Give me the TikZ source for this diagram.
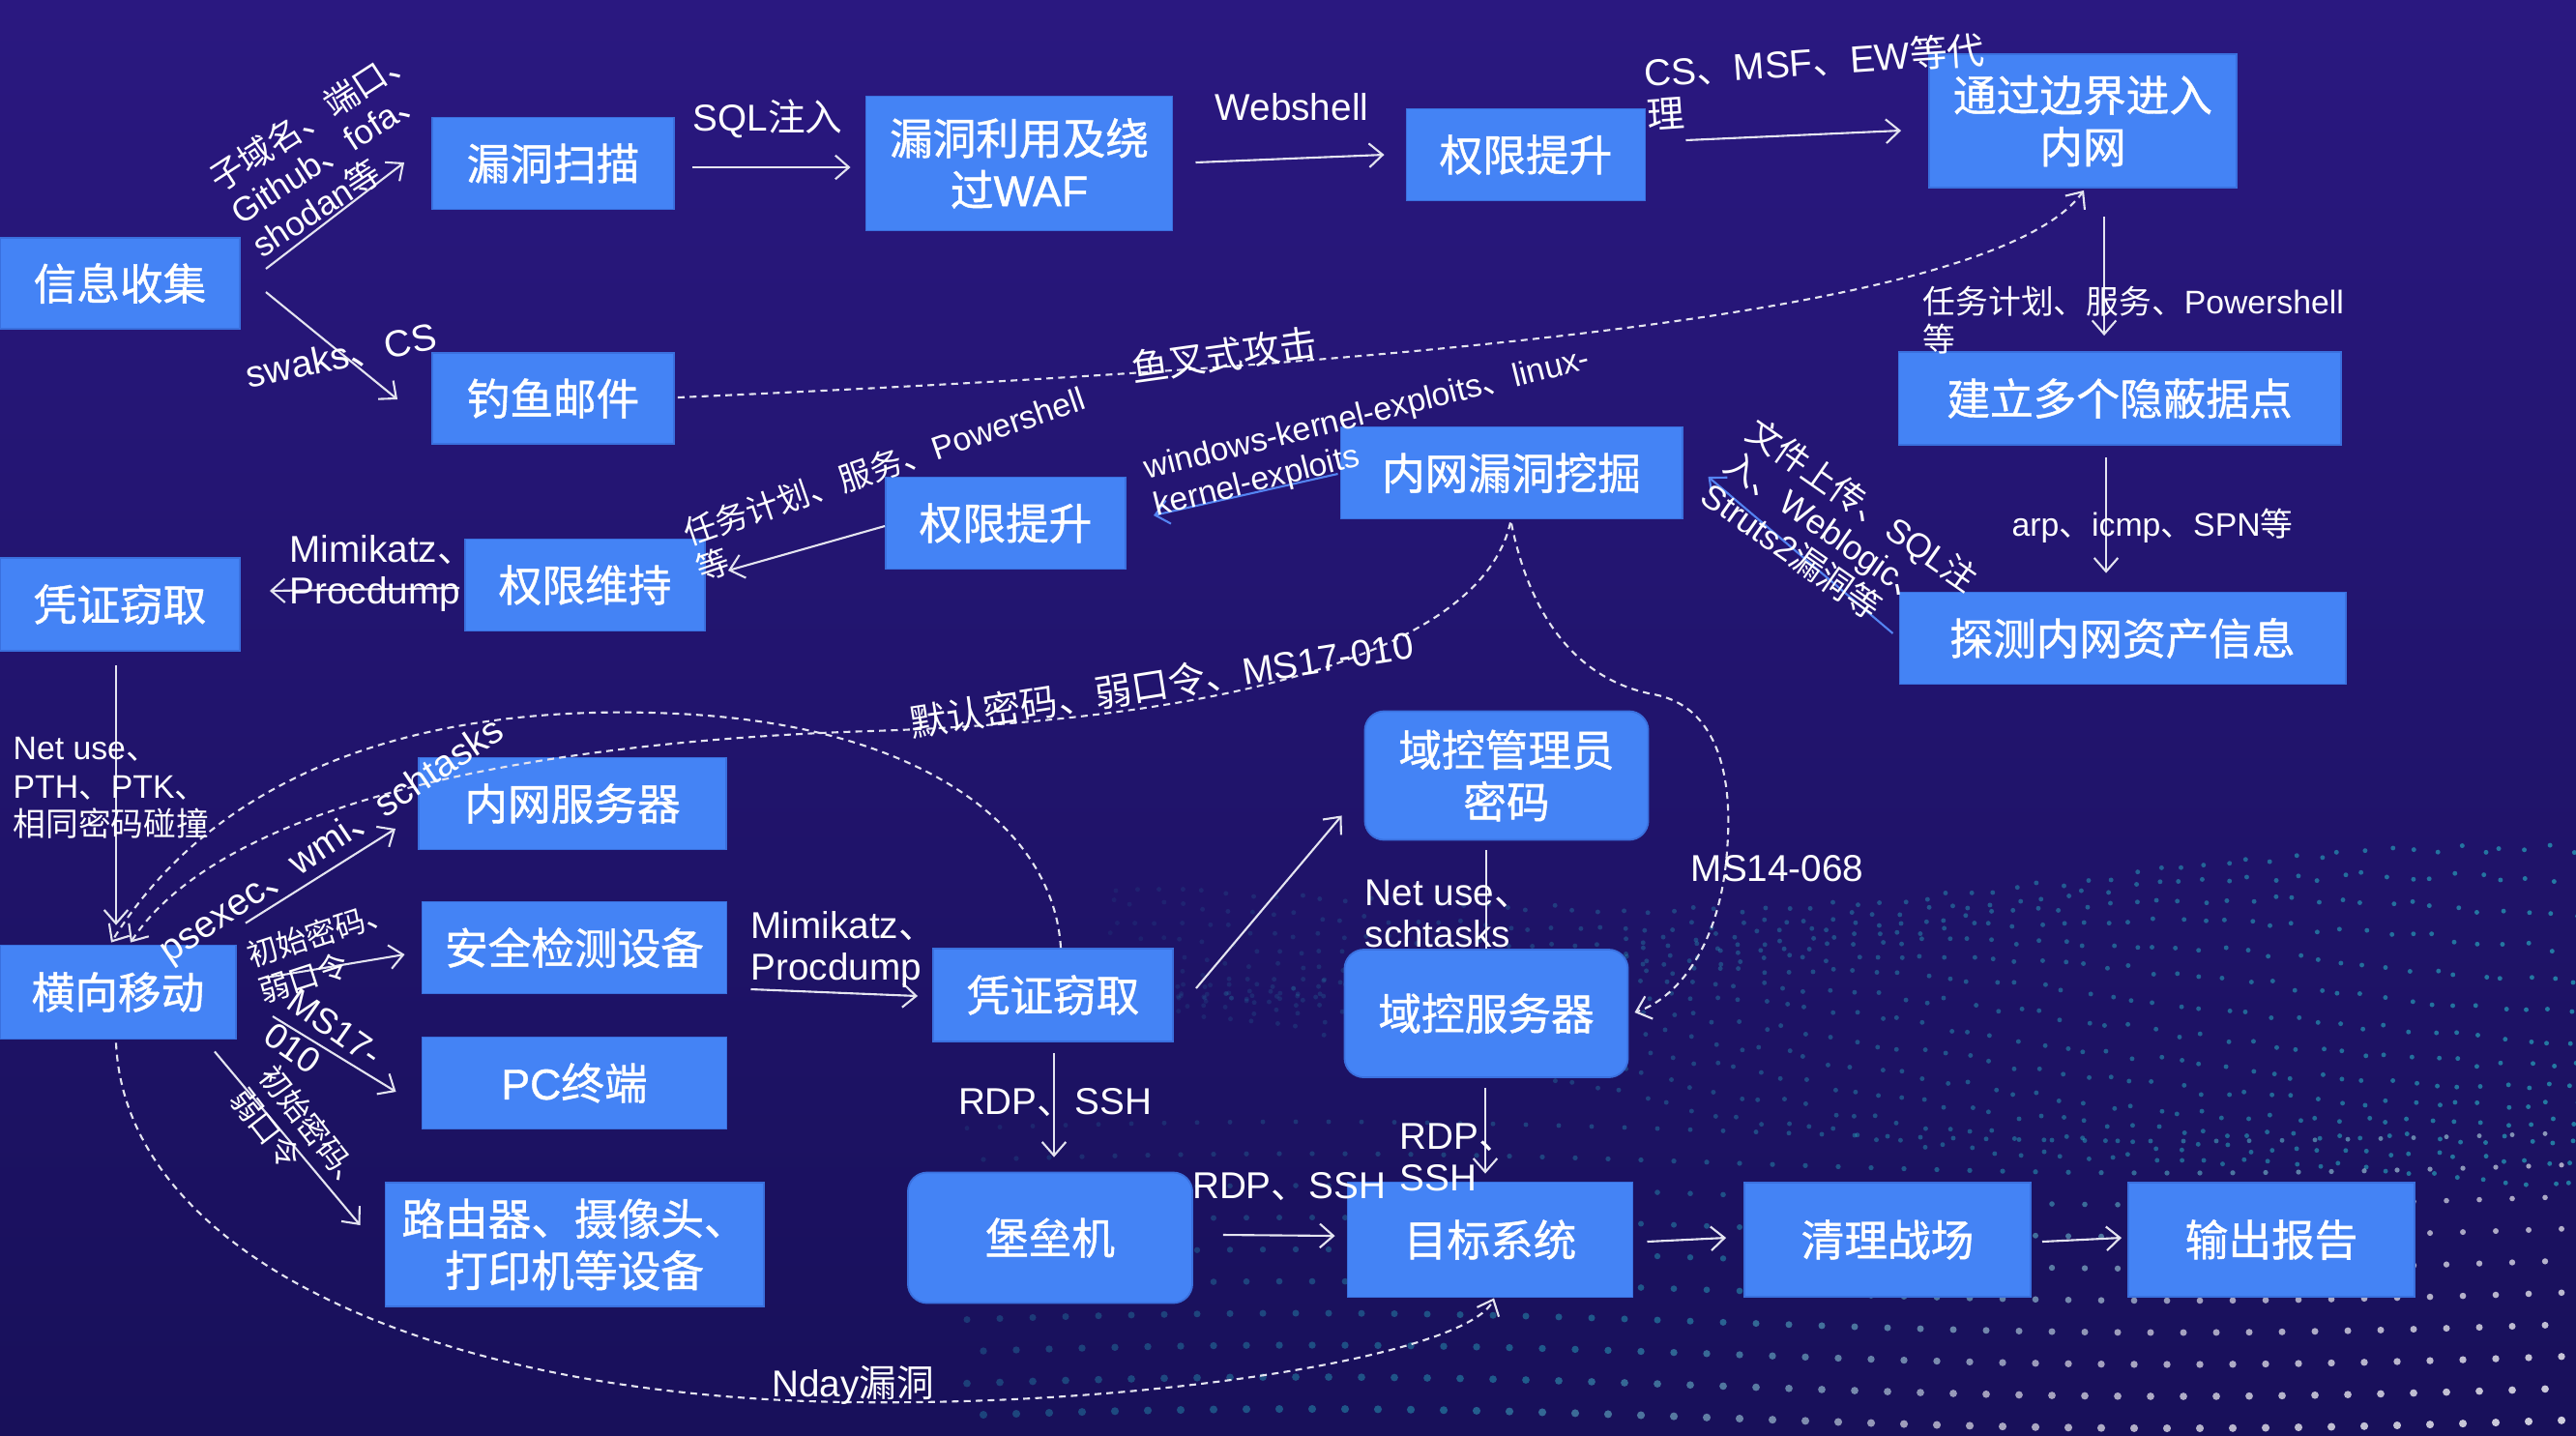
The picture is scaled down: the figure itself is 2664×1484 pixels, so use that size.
\documentclass[tikz,border=0pt]{standalone}
\usepackage{fontspec}
\setmainfont{Liberation Sans}
\newfontfamily\latR{Liberation Sans}
\newfontfamily\latB[FakeBold=1]{Liberation Sans}
\newfontfamily\cjkR{Noto Sans CJK SC}
\newfontfamily\cjkB[FakeBold=1]{Noto Sans CJK SC}
\usetikzlibrary{arrows.meta,calc}
\XeTeXinterchartokenstate=1
\newXeTeXintercharclass\cjkcls
\newcount\cjkcnt
\def\setcjkrange#1#2{\cjkcnt=#1\relax
  \loop\XeTeXcharclass\cjkcnt=\cjkcls\relax
  \advance\cjkcnt by 1\relax
  \ifnum\cjkcnt<#2\relax\repeat}
\setcjkrange{"3000}{"3040}
\setcjkrange{"4E00}{"A000}
\setcjkrange{"FF00}{"FFF0}
\def\toCJK{\cjkR}
\def\toLAT{\latR}
\XeTeXinterchartoks 0 \cjkcls = {\toCJK}
\XeTeXinterchartoks 4095 \cjkcls = {\toCJK}
\XeTeXinterchartoks \cjkcls 0 = {\toLAT}
\XeTeXinterchartoks 4095 0 = {\toLAT}

\definecolor{boxblue}{RGB}{68,131,245}
\definecolor{boxedge}{RGB}{58,112,222}
\definecolor{lncol}{RGB}{228,228,240}
\definecolor{blueln}{RGB}{84,132,242}
\definecolor{bgtop}{RGB}{42,24,128}
\definecolor{bgbot}{RGB}{24,16,90}
\definecolor{dotteal}{RGB}{40,185,200}

\tikzset{
  box/.style={fill=boxblue, draw=boxedge, line width=0.5pt, text=white, align=center, inner sep=0pt,
    font=\fontsize{12.7}{15.2}\selectfont\let\toCJK\cjkB\let\toLAT\latB},
  rbox/.style={box, rounded corners=0.2cm},
  lab/.style={text=white, inner sep=0pt, align=left, font=\fontsize{11}{12.4}\selectfont},
  labs/.style={lab, font=\fontsize{9.6}{11.3}\selectfont},
  labm/.style={lab, font=\fontsize{9}{11}\selectfont},
  conn/.style={draw=lncol, line width=0.6pt},
  arr/.style={conn, -{Straight Barb[length=4pt,width=7pt,line width=0.6pt]}},
  dsh/.style={arr, dash pattern=on 2pt off 1.5pt},
  barr/.style={arr, draw=blueln}
}

\begin{document}
\begin{tikzpicture}[x=0.01cm,y=-0.01cm]
\useasboundingbox (0,0) rectangle (2664,1484);
\shade[top color=bgtop, bottom color=bgbot] (0,0) rectangle (2664,1484);

% decorative dot field (background texture)
\pgfmathsetseed{11}
\foreach \r in {0,...,13}{
  \foreach \c in {0,...,63}{
    \pgfmathsetmacro{\xx}{1150+24*\c+6*rand}
    \pgfmathsetmacro{\yy}{940-0.03*(\xx-1150)+\r*(9+0.012*(\xx-1150))+20*sin(0.25*\xx+25*\r)+4*rand}
    \pgfmathsetmacro{\oo}{0.08+0.55*(\xx-1150)/1514}
    \fill[dotteal, fill opacity=\oo] (\xx,\yy) circle[radius=0.7pt];
  }
}
\foreach \r in {0,...,9}{
  \foreach \c in {0,...,48}{
    \pgfmathsetmacro{\xx}{1000+34*\c+17*mod(\r,2)}
    \pgfmathsetmacro{\yy}{1170+33*\r+10*sin(0.2*\xx)}
    \pgfmathsetmacro{\ww}{max(0,min(100,(\xx-1950)/5+(\yy-1280)/2))}
    \pgfmathsetmacro{\oo}{0.1+0.5*(\xx-1000)/1664+0.2*\r/9}
    \fill[white!\ww!dotteal, fill opacity=\oo] (\xx,\yy) circle[radius=0.7pt+0.05pt*\r];
  }
}

% boxes
\node[box, minimum width=2.48cm, minimum height=0.94cm] (info) at (124,293) {信息收集};
\node[box, minimum width=2.50cm, minimum height=0.95cm] (scan) at (572,169) {漏洞扫描};
\node[box, minimum width=3.17cm, minimum height=1.39cm] (exploit) at (1054,169) {漏洞利用及绕\\过WAF};
\node[box, minimum width=2.47cm, minimum height=0.95cm] (priv1) at (1578,160) {权限提升};
\node[box, minimum width=3.18cm, minimum height=1.38cm] (border) at (2154,125) {通过边界进入\\内网};
\node[box, minimum width=2.50cm, minimum height=0.94cm] (phish) at (572,412) {钓鱼邮件};
\node[box, minimum width=4.57cm, minimum height=0.96cm] (hide) at (2192,412) {建立多个隐蔽据点};
\node[box, minimum width=3.53cm, minimum height=0.95cm] (vuln) at (1563,489) {内网漏洞挖掘};
\node[box, minimum width=2.48cm, minimum height=0.95cm] (priv2) at (1040,541) {权限提升};
\node[box, minimum width=2.48cm, minimum height=0.95cm] (maintain) at (605,605) {权限维持};
\node[box, minimum width=2.48cm, minimum height=0.96cm] (cred1) at (124,625) {凭证窃取};
\node[box, minimum width=4.61cm, minimum height=0.95cm] (detect) at (2195,660) {探测内网资产信息};
\node[rbox, minimum width=2.93cm, minimum height=1.33cm] (dcpass) at (1558,802) {域控管理员\\密码};
\node[box, minimum width=3.18cm, minimum height=0.95cm] (srv) at (592,831) {内网服务器};
\node[box, minimum width=3.15cm, minimum height=0.95cm] (sec) at (594,980) {安全检测设备};
\node[box, minimum width=2.44cm, minimum height=0.97cm] (lateral) at (122,1026) {横向移动};
\node[box, minimum width=2.48cm, minimum height=0.96cm] (cred2) at (1089,1029) {凭证窃取};
\node[rbox, minimum width=2.93cm, minimum height=1.32cm] (dcsrv) at (1537,1048) {域控服务器};
\node[box, minimum width=3.15cm, minimum height=0.95cm] (pc) at (594,1120) {PC终端};
\node[box, minimum width=3.91cm, minimum height=1.28cm] (router) at (594,1287) {路由器、摄像头、\\打印机等设备};
\node[rbox, minimum width=2.94cm, minimum height=1.35cm] (bastion) at (1086,1280) {堡垒机};
\node[box, minimum width=2.95cm, minimum height=1.19cm] (target) at (1541,1282) {目标系统};
\node[box, minimum width=2.96cm, minimum height=1.18cm] (clean) at (1952,1282) {清理战场};
\node[box, minimum width=2.96cm, minimum height=1.18cm] (report) at (2349,1282) {输出报告};

% solid connectors
\draw[arr] ([shift={(26,-15)}]info.east) -- ([shift={(-28,-1)}]scan.west);
\draw[arr] ([shift={(26,9)}]info.east) -- ([shift={(-35,1)}]phish.west);
\draw[arr] ([shift={(18,4)}]scan.east) -- ([shift={(-15,4)}]exploit.west);
\draw[arr] ([shift={(23,-1)}]exploit.east) -- ([shift={(-22,0)}]priv1.west);
\draw[arr] ([shift={(41,-15)}]priv1.east) -- ([shift={(-28,10)}]border.west);
\draw[arr] ([shift={(22,29)}]border.south) -- ([shift={(-16,-16)}]hide.north);
\draw[arr] ([shift={(-14,12)}]hide.south) -- ([shift={(-17,-19)}]detect.north);
\draw[barr] ([shift={(-6,-5)}]detect.west) -- ([shift={(26,4)}]vuln.east);
\draw[barr] ([shift={(-2,1)}]vuln.west) -- ([shift={(28,-8)}]priv2.east);
\draw[arr] ([shift={(0,3)}]priv2.west) -- ([shift={(23,-15)}]maintain.east);
\draw[arr] ([shift={(-5,3)}]maintain.west) -- ([shift={(30,-14)}]cred1.east);
\draw[arr] ([shift={(-4,14)}]cred1.south) -- ([shift={(-2,-20)}]lateral.north);
\draw[arr] ([shift={(9,-22)}]lateral.north east) -- ([shift={(-23,26)}]srv.west);
\draw[arr] ([shift={(30,-15)}]lateral.east) -- ([shift={(-17,7)}]sec.west);
\draw[arr] ([shift={(37,25)}]lateral.east) -- ([shift={(-26,9)}]pc.west);
\draw[arr] ([shift={(-23,12)}]lateral.south east) -- ([shift={(-25,-20)}]router.west);
\draw[arr] ([shift={(24,43)}]sec.east) -- ([shift={(-15,1)}]cred2.west);
\draw[arr] ([shift={(23,-7)}]cred2.east) -- ([shift={(-23,-26)}]dcpass.south west);
\draw[arr] ([shift={(1,11)}]cred2.south) -- ([shift={(4,-15)}]bastion.north);
\draw[conn] ([shift={(-21,10)}]dcpass.south) -- (dcsrv.north);
\draw[arr] ([shift={(-1,10)}]dcsrv.south) -- ([shift={(-5,-8)}]target.north);
\draw[arr] ([shift={(31,-3)}]bastion.east) -- ([shift={(-12,-4)}]target.west);
\draw[arr] ([shift={(14,2)}]target.east) -- ([shift={(-18,-2)}]clean.west);
\draw[arr] ([shift={(11,2)}]clean.east) -- ([shift={(-6,-2)}]report.west);

% dashed connectors
\draw[dsh] ([shift={(3,-1)}]phish.east) .. controls (1400,380) and (2060,330) .. ([shift={(1,2)}]border.south);
\draw[dsh] ([shift={(-1,3)}]vuln.south) .. controls (1530,680) and (1250,745) .. (900,756)
   .. controls (550,767) and (230,830) .. ([shift={(13,-2)}]lateral.north);
\draw[dsh] ([shift={(8,0)}]cred2.north) .. controls (1090,860) and (960,750) .. (700,738)
   .. controls (450,726) and (230,790) .. ([shift={(-7,-2)}]lateral.north);
\draw[dsh] ([shift={(0,4)}]vuln.south) .. controls (1585,650) and (1640,705) .. (1710,718)
   .. controls (1780,731) and (1792,810) .. (1786,880)
   .. controls (1780,970) and (1740,1030) .. ([shift={(6,-1)}]dcsrv.east);
\draw[dsh] ([shift={(-2,3)}]lateral.south) .. controls (130,1300) and (450,1445) .. (880,1450)
   .. controls (1200,1454) and (1520,1400) .. ([shift={(4,0)}]target.south);

% labels
\node[labm, font=\fontsize{10}{11.5}\selectfont, rotate=33] (l1) at (345,155) {子域名、端口、\\Github、fofa、\\shodan等};
\node[lab, rotate=12] (l2) at (353,368) {swaks、CS};
\node[lab] (l3) at (794,123) {SQL注入};
\node[lab] (l4) at (1336,111) {Webshell};
\node[lab, rotate=4] (l5) at (1878,84) {CS、MSF、EW等代\\理};
\node[labs, anchor=west] (l6) at (1988,331) {任务计划、服务、Powershell\\等};
\node[labs] (l7) at (2226,544) {arp、icmp、SPN等};
\node[lab, font=\fontsize{10}{11.5}\selectfont, rotate=-35] (l8) at (1903,555) {文件上传、SQL注\\入、Weblogic、\\Struts2漏洞等};
\node[labs, rotate=14] (l9) at (1419,449) {windows-kernel-exploits、linux-\\kernel-exploits};
\node[labs, rotate=19] (l10) at (921,500) {任务计划、服务、Powershell\\等};
\node[lab, anchor=west] (l11) at (299,593) {Mimikatz、\\Procdump};
\node[labs, anchor=west] (l12) at (13,815) {Net use、\\PTH、PTK、\\相同密码碰撞};
\node[lab, rotate=34] (l13) at (344,871) {psexec、wmi、schtasks};
\node[labm, rotate=18] (l14) at (338,983) {初始密码、\\弱口令};
\node[lab, font=\fontsize{10.5}{12}\selectfont, rotate=-35] (l15) at (334,1080) {MS17-\\010};
\node[labm, rotate=-52] (l16) at (310,1180) {初始密码、\\弱口令};
\node[lab, anchor=west] (l17) at (776,982) {Mimikatz、\\Procdump};
\node[lab] (l18) at (1091,1140) {RDP、SSH};
\node[lab, anchor=west] (l19) at (1411,945) {Net use、\\schtasks};
\node[lab, anchor=west] (l20) at (1447,1197) {RDP、\\SSH};
\node[lab] (l21) at (1333,1227) {RDP、SSH};
\node[lab] (l22) at (1838,898) {MS14-068};
\node[lab] (l23) at (882,1432) {Nday漏洞};
\node[lab, rotate=9] (l24) at (1201,707) {默认密码、弱口令、MS17-010};
\node[lab, rotate=8] (l25) at (1266,367) {鱼叉式攻击};
\end{tikzpicture}
\end{document}
